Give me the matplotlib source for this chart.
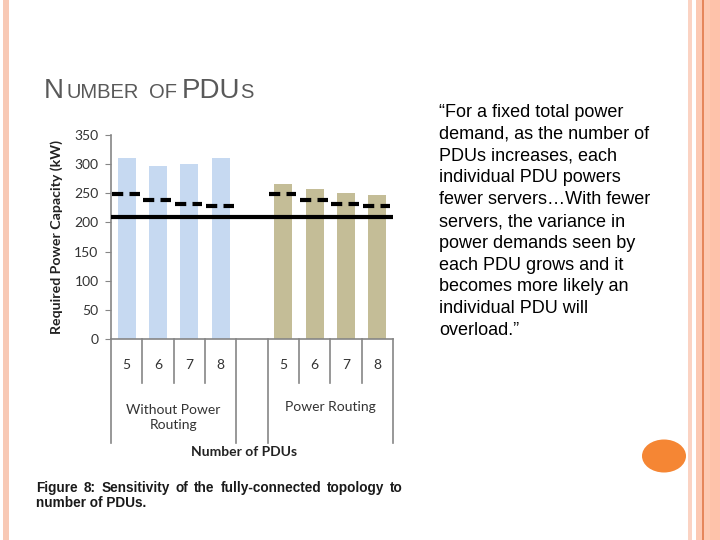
import numpy as np
import matplotlib.pyplot as plt
from matplotlib.patches import Rectangle, Circle

# Chart data
pdu_counts = ["5", "6", "7", "8"]
group_names = ["Without Power\nRouting", "Power Routing"]
without_routing = [311, 297, 300, 310]
with_routing = [266, 257, 251, 247]
expected_peak = [249, 239, 232, 229]   # dashed markers, same for both groups
mean_demand = 210                       # solid line

quote_lines = [
    "\u201cFor a fixed total power",
    "demand, as the number of",
    "PDUs increases, each",
    "individual PDU powers",
    "fewer servers\u2026With fewer",
    "servers, the variance in",
    "power demands seen by",
    "each PDU grows and it",
    "becomes more likely an",
    "individual PDU will",
    "overload.\u201d",
]
caption_line1 = "Figure 8: Sensitivity of the fully-connected topology to"
caption_line2 = "number of PDUs."

W, H = 720, 540
fig = plt.figure(figsize=(7.2, 5.4), dpi=100)
fig.patch.set_facecolor("white")


def fx(x):
    return x / W


def fy(y):
    return 1 - y / H


# Slide border stripes
stripes = [
    (3, 6, "#f8c9b5"),
    (688, 4, "#fbd3c3"),
    (696, 6, "#fcc9b3"),
    (702, 1.5, "#e5875c"),
    (703.5, 6, "#fdc9b2"),
    (709.5, 11, "#fec2aa"),
]
for x0, w, c in stripes:
    fig.patches.append(Rectangle((fx(x0), 0), w / W, 1, transform=fig.transFigure,
                                 facecolor=c, edgecolor="none", zorder=0))
fig.patches.append(Circle((fx(664), fy(456)), 22 / W, transform=fig.transFigure,
                          facecolor="#f58634", edgecolor="none", zorder=1))

# Slide title in small caps
title_parts = [("N", 20, 44), ("UMBER", 14.5, 66), ("OF", 14.5, 149),
               ("PDU", 20, 182), ("S", 14.5, 240)]
for part, size, x0 in title_parts:
    fig.text(fx(x0), fy(98), part, fontsize=size, color="#595959",
             family="Liberation Sans", ha="left", va="baseline")

# Quote on the right
fig.text(fx(439), fy(104), "\n".join(quote_lines), fontsize=13, color="black",
         family="Liberation Sans", ha="left", va="top", linespacing=1.37)

# Chart
ax = fig.add_axes([fx(111), fy(339), (393 - 111) / W, (339 - 135) / H])
x_left = np.arange(4)
x_right = np.arange(5, 9)
bar_w = 0.58
ax.bar(x_left, without_routing, width=bar_w, color="#c6d9f1", zorder=2)
ax.bar(x_right, with_routing, width=bar_w, color="#c4bd97", zorder=2)

for xs in (x_left, x_right):
    for x, v in zip(xs, expected_peak):
        ax.plot([x - 0.47, x + 0.42], [v, v], color="black", lw=3,
                linestyle=(0, (2.7, 1.5)), solid_capstyle="butt",
                dash_capstyle="butt", zorder=3)
ax.axhline(mean_demand, color="black", lw=3, zorder=3)

ax.set_xlim(-0.5, 8.5)
ax.set_ylim(0, 350)
ax.set_yticks(np.arange(0, 351, 50))
ax.set_xticks([])
for s in ("top", "right"):
    ax.spines[s].set_visible(False)
for s in ("left", "bottom"):
    ax.spines[s].set_color("#868686")
    ax.spines[s].set_linewidth(1.2)
ax.tick_params(axis="y", direction="out", length=4, color="#868686",
               labelsize=10, labelcolor="#333333", pad=5)
for lab in ax.get_yticklabels():
    lab.set_family("Lato")
ax.set_ylabel("Required Power Capacity (kW)", fontsize=10.2, fontweight="bold",
              family="Lato", color="#222222", labelpad=8)

# Multi-level category axis
tr = ax.get_xaxis_transform()
boundaries = np.arange(-0.5, 9.0, 1.0)
for b in boundaries:
    long_line = b in (-0.5, 3.5, 4.5, 8.5)
    ax.plot([b, b], [0, -0.51 if long_line else -0.216], transform=tr,
            color="#868686", lw=1.2, clip_on=False)
for xs in (x_left, x_right):
    for x, lab in zip(xs, pdu_counts):
        ax.text(x, -0.127, lab, transform=tr, ha="center", va="center",
                fontsize=10, family="Lato", color="#333333")
ax.text(1.5, -0.385, group_names[0], transform=tr, ha="center", va="center",
        fontsize=10, family="Lato", color="#333333", linespacing=1.35)
ax.text(6.5, -0.333, group_names[1], transform=tr, ha="center", va="center",
        fontsize=10, family="Lato", color="#333333")
ax.text(3.75, -0.554, "Number of PDUs", transform=tr, ha="center", va="center",
        fontsize=10, fontweight="bold", family="Lato", color="#222222")

# Caption, first line justified
renderer = fig.canvas.get_renderer()
words = caption_line1.split(" ")
cap_kw = dict(fontsize=9.8, fontweight="bold", family="Liberation Sans",
              color="#1a1a1a", va="baseline", ha="left")
widths = []
items = []
for w_ in words:
    t = fig.text(0, 0, w_, **cap_kw)
    items.append(t)
    widths.append(t.get_window_extent(renderer).width)
gap = (403 - 36 - sum(widths)) / (len(words) - 1)
x_cur = 36
for t, w_ in zip(items, widths):
    t.set_position((fx(x_cur), fy(492)))
    x_cur += w_ + gap
fig.text(fx(36), fy(507), caption_line2, **cap_kw)

fig.savefig("out.png", dpi=100)
